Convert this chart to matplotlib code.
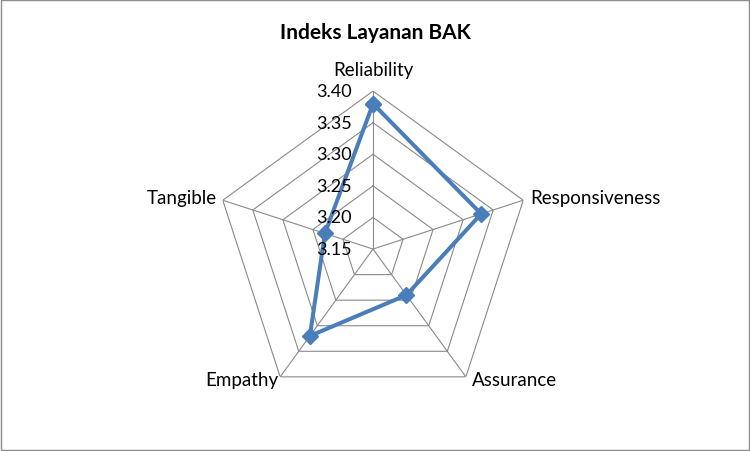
import numpy as np
import matplotlib
matplotlib.use("Agg")
import matplotlib.pyplot as plt
from matplotlib.patches import Rectangle

# nilai indeks per dimensi
categories = ["Reliability", "Responsiveness", "Assurance", "Empathy", "Tangible"]
values = [3.38, 3.33, 3.24, 3.32, 3.23]
ticks = [3.15, 3.20, 3.25, 3.30, 3.35, 3.40]
tick_labels = ["3.15", "3.20", "3.25", "3.30", "3.35", "3.40"]
title = "Indeks Layanan BAK"

plt.rcParams['font.family'] = ['Lato', 'DejaVu Sans']

fig = plt.figure(figsize=(7.5, 4.52), dpi=100)
fig.patch.set_facecolor("white")
fig.patches.append(Rectangle((0.001, 0.002), 0.997, 0.995, transform=fig.transFigure,
                             fill=False, edgecolor="#8c8c8c", linewidth=1.0))

ax = fig.add_axes([0.2867, 0.0973, 0.4213, 0.699], projection="polar")
ax.set_theta_offset(np.pi / 2)
ax.set_theta_direction(-1)
ax.set_ylim(ticks[0], ticks[-1])
ax.grid(False)
ax.spines["polar"].set_visible(False)
ax.set_xticks([])
ax.set_yticks([])
ax.patch.set_alpha(0)

n = len(categories)
theta = np.linspace(0, 2 * np.pi, n, endpoint=False)
theta_c = np.append(theta, theta[0])

# jaring segilima
grid_col = "#8a8a8a"
for t in ticks[1:]:
    ax.plot(theta_c, [t] * (n + 1), color=grid_col, lw=0.8, zorder=1)
for th in theta:
    ax.plot([th, th], [ticks[0], ticks[-1]], color=grid_col, lw=0.8, zorder=1)

# data
vals_c = values + values[:1]
ax.plot(theta_c, vals_c, color="#4a7ebb", lw=2.9, marker="D", markersize=8,
        markerfacecolor="#4a7ebb", markeredgecolor="#4a7ebb", zorder=3)

# label sumbu nilai
px = 0.72
for t, lab in zip(ticks, tick_labels):
    ax.annotate(lab, xy=(0, t), xytext=(-21 * px, 0), textcoords="offset points",
                ha="right", va="center", fontsize=13, color="black")

# label kategori
offsets = [((0, 22), "center"), ((7, 3), "left"), ((6, -3), "left"),
           ((-2, -3), "right"), ((-6, 3), "right")]
for th, lab, (off, ha) in zip(theta, categories, offsets):
    ax.annotate(lab, xy=(th, ticks[-1]), xytext=(off[0] * px, off[1] * px),
                textcoords="offset points", ha=ha, va="center", fontsize=13.5, color="black")

fig.text(0.5, 1 - 33 / 452, title, ha="center", va="center", fontsize=15,
         fontweight="bold", color="black")

fig.savefig("out.png", dpi=100)
